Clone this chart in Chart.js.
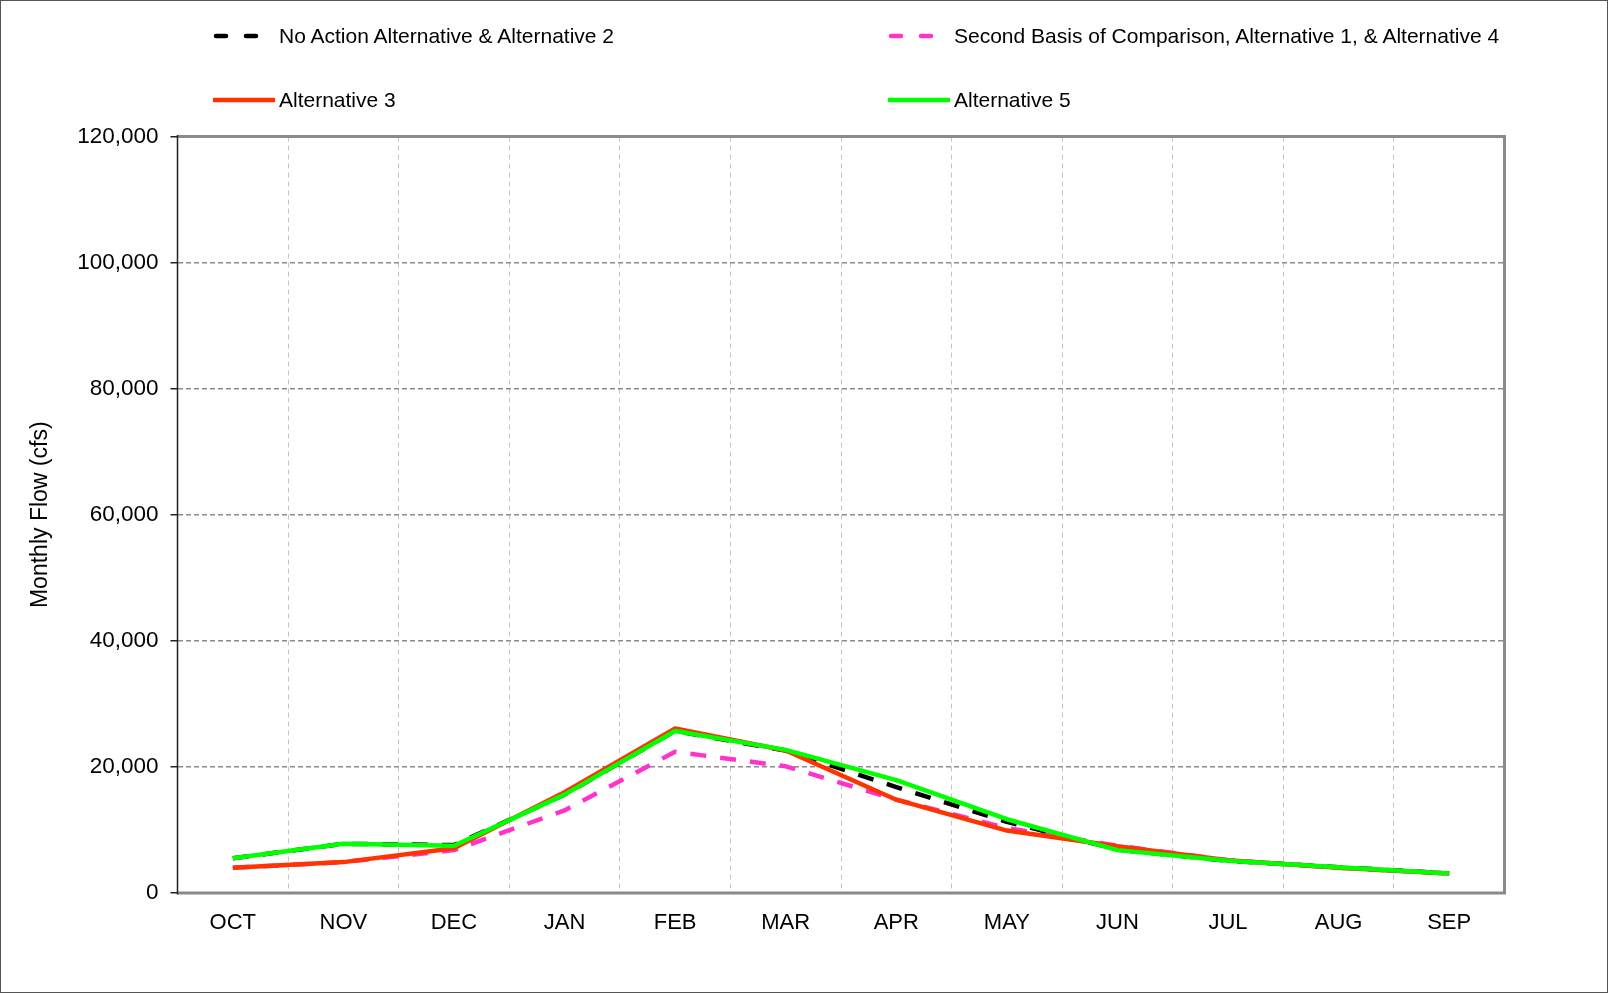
<!DOCTYPE html>
<html>
<head>
<meta charset="utf-8">
<script src="https://cdn.jsdelivr.net/npm/chart.js@4.4.1/dist/chart.umd.min.js"></script>
<style>
  html, body { margin: 0; padding: 0; background: #fff; }
  #wrap { position: relative; width: 1608px; height: 993px; overflow: hidden; }
  #frame { position: absolute; left: 0; top: 0; width: 1608px; height: 993px; box-sizing: border-box; border: 1.5px solid #555; pointer-events: none; }
  #c { position: absolute; left: 0; top: 0; }
  .lg { position: absolute; display: flex; align-items: center; font-family: "Liberation Sans", Arial, sans-serif; font-size: 21px; color: #000; white-space: nowrap; }
  .lg svg { margin-right: 4px; }
</style>
</head>
<body>
<div id="wrap">
  <canvas id="c" width="1608" height="993"></canvas>
  <div id="legend"></div>
  <div id="frame"></div>
</div>
<script>
const months = ['OCT','NOV','DEC','JAN','FEB','MAR','APR','MAY','JUN','JUL','AUG','SEP'];
const yTicks = [0, 20000, 40000, 60000, 80000, 100000, 120000];
const seriesLabels = [
  'No Action Alternative & Alternative 2',
  'Second Basis of Comparison, Alternative 1, & Alternative 4',
  'Alternative 3',
  'Alternative 5'
];
const noAction    = [5500, 7800, 7600, 15600, 25700, 22600, 16800, 11300, 6900, 5100, 4100, 3100];
const secondBasis = [4000, 4900, 6800, 13100, 22400, 20100, 14800, 10300, 7500, 5200, 4000, 3100];
const alt3        = [4000, 4900, 7100, 16000, 26100, 22600, 14800, 9900, 7400, 5200, 4000, 3100];
const alt5        = [5500, 7800, 7500, 15600, 25700, 22700, 17900, 11700, 6800, 5100, 4100, 3100];

const FONT = '"Liberation Sans", Arial, sans-serif';
const styles = [
  { color: '#000000', dash: [16, 14], order: 2 },
  { color: '#ff33cc', dash: [16, 14], order: 3 },
  { color: '#ff3300', dash: [], order: 1 },
  { color: '#00ff00', dash: [], order: 0 }
];
const seriesData = [noAction, secondBasis, alt3, alt5];

const datasets = seriesData.map((d, i) => ({
  label: seriesLabels[i],
  data: d,
  borderColor: styles[i].color,
  backgroundColor: styles[i].color,
  borderWidth: 4.5,
  borderDash: styles[i].dash,
  borderCapStyle: 'butt',
  borderJoinStyle: 'round',
  pointRadius: 0,
  tension: 0,
  fill: false,
  order: styles[i].order
}));

// HTML legend
const legendPos = [
  { x: 213, y: 36 }, { x: 888, y: 36 }, { x: 213, y: 100 }, { x: 888, y: 100 }
];
const lg = document.getElementById('legend');
seriesLabels.forEach((lab, i) => {
  const div = document.createElement('div');
  div.className = 'lg';
  div.style.left = legendPos[i].x + 'px';
  div.style.top = (legendPos[i].y - 14) + 'px';
  div.style.height = '28px';
  const s = styles[i];
  const dashAttr = s.dash.length ? 'stroke-dasharray="10 20" stroke-linecap="round"' : 'stroke-linecap="butt"';
  div.innerHTML = '<svg width="62" height="10"><line x1="' + (s.dash.length ? 3 : 0) + '" y1="5" x2="62" y2="5" stroke="' + s.color + '" stroke-width="4.5" ' + dashAttr + '/></svg><span>' + lab + '</span>';
  lg.appendChild(div);
});

const framePlugin = {
  id: 'frame',
  afterDatasetsDraw(chart) {
    const { ctx, chartArea: a } = chart;
    ctx.save();
    ctx.strokeStyle = '#8a8a8a';
    ctx.lineWidth = 3;
    ctx.beginPath();
    ctx.moveTo(a.left, a.top);
    ctx.lineTo(a.right, a.top);
    ctx.lineTo(a.right, a.bottom);
    ctx.lineTo(a.left, a.bottom);
    ctx.stroke();
    ctx.strokeStyle = '#222';
    ctx.lineWidth = 1.5;
    ctx.beginPath();
    ctx.moveTo(a.left, a.top - 1.5);
    ctx.lineTo(a.left, a.bottom + 1.5);
    ctx.stroke();
    ctx.restore();
  }
};

new Chart(document.getElementById('c'), {
  type: 'line',
  data: { labels: months, datasets },
  options: {
    responsive: false,
    animation: false,
    devicePixelRatio: 1,
    layout: { padding: { top: 136.5, right: 103.5, left: 0, bottom: 0 } },
    plugins: { legend: { display: false }, tooltip: { enabled: false } },
    scales: {
      x: {
        type: 'category',
        offset: true,
        grid: { offset: true, color: '#c4c4c4', lineWidth: 1, drawTicks: false },
        border: { display: false, dash: [5, 4] },
        ticks: { color: '#000', font: { family: FONT, size: 22 }, padding: 17, maxRotation: 0, autoSkip: false },
        afterFit(scale) { scale.height = 100; }
      },
      y: {
        min: 0, max: 120000,
        afterBuildTicks(scale) { scale.ticks = yTicks.map(v => ({ value: v })); },
        grid: { color: '#8c8c8c', lineWidth: 1.5, drawTicks: true, tickLength: 7, tickColor: '#222', tickBorderDash: [], tickWidth: 1.5 },
        border: { display: false, dash: [5, 3] },
        ticks: {
          color: '#000', font: { family: FONT, size: 22.5 }, padding: 12,
          callback: v => v.toLocaleString('en-US')
        },
        title: { display: true, text: 'Monthly Flow (cfs)', color: '#000', font: { family: FONT, size: 23 }, padding: { top: 27, bottom: 0 } },
        afterFit(scale) { scale.width = 177.5; }
      }
    }
  },
  plugins: [framePlugin]
});
</script>
</body>
</html>
